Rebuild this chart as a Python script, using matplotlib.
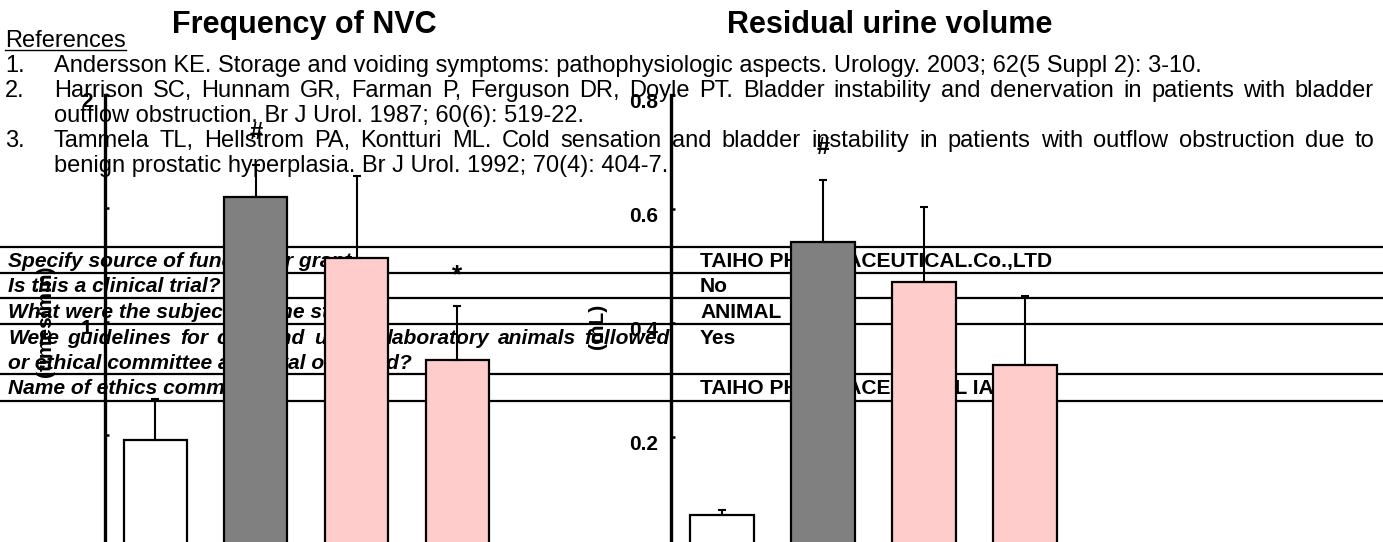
import matplotlib
matplotlib.use('Agg')
import matplotlib.pyplot as plt
from matplotlib.ticker import FixedLocator
from matplotlib.transforms import ScaledTranslation

# ---------------- data ----------------
groups = ['Sham', 'BOO', 'BOO + drug (low)', 'BOO + drug (high)']
nvc_mean = [0.48, 1.55, 1.28, 0.83]
nvc_sem = [0.18, 0.14, 0.36, 0.24]
nvc_marks = ['', '#', '', '*']
rv_mean = [0.063, 0.542, 0.472, 0.326]
rv_sem = [0.009, 0.109, 0.132, 0.121]
rv_marks = ['', '#', '', '']
bar_colors = ['#FFFFFF', '#808080', '#FFCCCC', '#FFCCCC']

titles = ['Frequency of NVC', 'Residual urine volume']
ylabels = ['(times/min)', '(mL)']
left_major = [0, 1, 2]
left_major_labels = ['0', '1', '2']
left_minor = [0.5, 1.5]
right_major = [0, 0.2, 0.4, 0.6, 0.8]
right_major_labels = ['0', '0.2', '0.4', '0.6', '0.8']

references = [
    ["Andersson KE. Storage and voiding symptoms: pathophysiologic aspects. Urology. 2003; 62(5 Suppl 2): 3-10."],
    ["Harrison SC, Hunnam GR, Farman P, Ferguson DR, Doyle PT. Bladder instability and denervation in patients with bladder",
     "outflow obstruction. Br J Urol. 1987; 60(6): 519-22."],
    ["Tammela TL, Hellstrom PA, Kontturi ML. Cold sensation and bladder instability in patients with outflow obstruction due to",
     "benign prostatic hyperplasia. Br J Urol. 1992; 70(4): 404-7."],
]
table_questions = [
    ["Specify source of funding or grant"],
    ["Is this a clinical trial?"],
    ["What were the subjects of the study?"],
    ["Were guidelines for care and use of laboratory animals followed",
     "or ethical committee approval obtained?"],
    ["Name of ethics committee"],
]
table_answers = ["TAIHO PHARMACEUTICAL.Co.,LTD", "No", "ANIMAL", "Yes",
                 "TAIHO PHARMACEUTICAL IACUC"]

# ---------------- layout ----------------
W, H, DPI = 1383, 542, 100
plt.rcParams['font.family'] = ['Liberation Sans', 'DejaVu Sans']
fig = plt.figure(figsize=(W / DPI, H / DPI), dpi=DPI, facecolor='white')
bg = fig.add_axes([0, 0, 1, 1], zorder=-1)
bg.set_xlim(0, W)
bg.set_ylim(H, 0)
bg.axis('off')
rend = fig.canvas.get_renderer()


def width_of(s, **kw):
    t = bg.text(0, 0, s, fontsize=10, **kw)
    w = t.get_window_extent(rend).width
    t.remove()
    return w


def justified(s, x0, x1, y, **kw):
    words = s.split(' ')
    ts = [bg.text(0, y, w, va='baseline', ha='left', **kw) for w in words]
    ws = [t.get_window_extent(rend).width for t in ts]
    gap = (x1 - x0 - sum(ws)) / (len(ws) - 1)
    x = x0
    for t, w in zip(ts, ws):
        t.set_x(x)
        x += w + gap


# references block
ref_fs = 10 * 1145 / width_of(references[0][0])
bg.text(5, 47, 'References', fontsize=ref_fs, va='baseline', ha='left')
ul = width_of('References') * ref_fs / 10
bg.plot([5, 5 + ul], [50, 50], color='black', lw=1.0)
base = 72
for i, lines in enumerate(references):
    bg.text(5, base, f'{i + 1}.', fontsize=ref_fs, va='baseline')
    for j, line in enumerate(lines):
        if j < len(lines) - 1:
            justified(line, 54, 1374, base, fontsize=ref_fs)
        else:
            bg.text(54, base, line, fontsize=ref_fs, va='baseline')
        base += 25

# titles
t_fs = 10 * 265 / width_of(titles[0], fontweight='bold')
bg.text(304.5, 33, titles[0], fontsize=t_fs, fontweight='bold', ha='center', va='baseline')
bg.text(889.5, 33, titles[1], fontsize=t_fs, fontweight='bold', ha='center', va='baseline')

# table
tab_fs = 10 * 352 / width_of(table_answers[0], fontweight='bold')
bg.hlines([247, 273, 298, 324, 374, 401], 0, W, color='black', lw=1.6)
row_base = [[267], [292.5], [318], [344, 369], [394.5]]
for q_lines, a, ys in zip(table_questions, table_answers, row_base):
    for j, (line, y) in enumerate(zip(q_lines, ys)):
        kw = dict(fontsize=tab_fs, fontweight='bold', fontstyle='italic')
        if j < len(q_lines) - 1:
            justified(line, 8, 670, y, **kw)
        else:
            bg.text(8, y, line, va='baseline', **kw)
    bg.text(700, ys[0], a, fontsize=tab_fs, fontweight='bold', va='baseline')

# significance-mark styling (size in pt, baseline offset above the cap in pt)
mark_style = {'#': (17, 18.5), '*': (19, 16.5)}


# ---------------- charts ----------------
def rect(x0, x1, ytop, ybot):
    return [x0 / W, (H - ybot) / H, (x1 - x0) / W, (ybot - ytop) / H]


def chart(r, first_center, spacing, width_px, means, sems, marks, ylim,
          major, major_labels, minor, ylabel, ylab_x, ylab_y):
    ax = fig.add_axes(rect(*r), zorder=1)
    ax.patch.set_alpha(0)
    x0px = r[0]
    left = -(first_center - x0px) / spacing
    ax.set_xlim(left, left + (r[1] - r[0]) / spacing)
    ax.set_ylim(*ylim)
    xs = list(range(len(means)))
    ax.bar(xs, means, width=width_px / spacing, color=bar_colors,
           edgecolor='black', linewidth=1.6, zorder=2)
    ax.errorbar(xs, means, yerr=[[0] * len(means), sems], fmt='none',
                ecolor='black', elinewidth=1.5, capsize=3, capthick=1.5, zorder=3)
    for x, m, s, mk in zip(xs, means, sems, marks):
        if mk:
            fs, off = mark_style[mk]
            ax.annotate(mk, (x, m + s), xytext=(0, off), textcoords='offset points',
                        ha='center', va='baseline', fontsize=fs, fontweight='bold')
    for sp in ['top', 'right', 'bottom']:
        ax.spines[sp].set_visible(False)
    ax.spines['left'].set_linewidth(2.4)
    ax.set_xticks([])
    ax.yaxis.set_major_locator(FixedLocator(major))
    ax.set_yticklabels(major_labels)
    if minor:
        ax.yaxis.set_minor_locator(FixedLocator(minor))
    ax.tick_params(axis='y', which='both', direction='in', length=3, width=1.8,
                   labelsize=15, pad=9)
    for lab in ax.get_yticklabels():
        lab.set_fontweight('bold')
        lab.set_transform(lab.get_transform() + ScaledTranslation(0, -0.05, fig.dpi_scale_trans))
    ax.text(ylab_x, ylab_y, ylabel, transform=ax.transAxes, rotation=90,
            ha='center', va='center', fontsize=15, fontweight='bold')
    return ax


ax1 = chart((105, 520, 94.5, 548.5), 155, 100.8, 63, nvc_mean, nvc_sem, nvc_marks,
            (0, 2), left_major, left_major_labels, left_minor, ylabels[0],
            (45 - 105) / 415, 0.5)
ax2 = chart((671, 1110, 95, 551), 721.5, 101.3, 64, rv_mean, rv_sem, rv_marks,
            (0, 0.8), right_major, right_major_labels, None, ylabels[1],
            (597 - 671) / 439, 0.493)

fig.savefig('out.png', dpi=DPI, facecolor='white')
